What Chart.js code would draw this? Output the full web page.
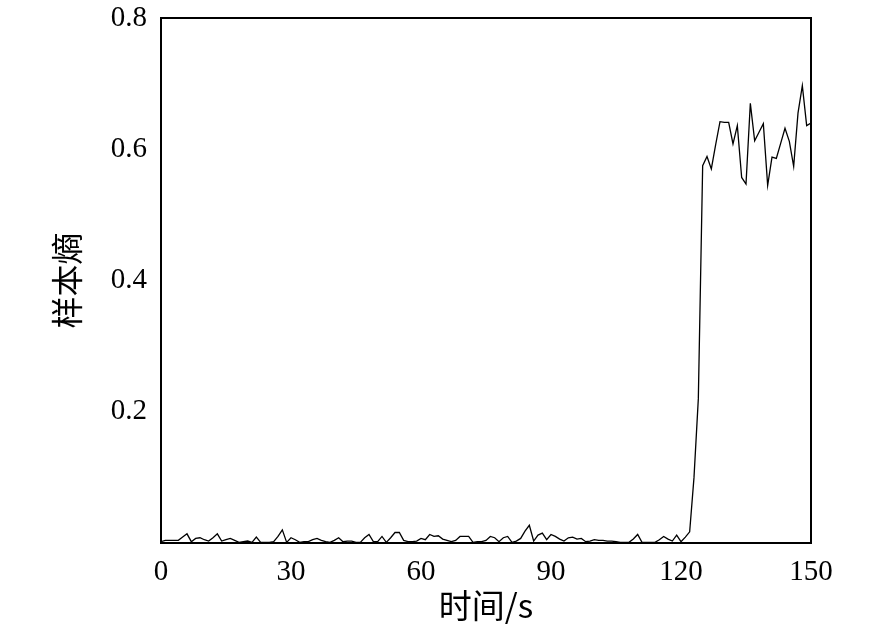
<!DOCTYPE html>
<html>
<head>
<meta charset="utf-8">
<script src="https://cdn.jsdelivr.net/npm/chart.js@4/dist/chart.umd.min.js"></script>
<style>
html,body{margin:0;padding:0;background:#fff;}
#wrap{width:886px;height:631px;}
</style>
</head>
<body>
<div id="wrap"><canvas id="c" width="886" height="631"></canvas></div>
<script>
// time (s)
const times = [];
for (let i = 0; i <= 150; i++) times.push(i);
// sample entropy values
const entropy = [
  0.002,0.004,0.004,0.004,0.004,0.009,0.014,0.002,0.007,0.008,
  0.005,0.003,0.008,0.014,0.003,0.005,0.007,0.004,0.001,0.002,
  0.003,0.001,0.009,0.001,0.001,0.001,0.002,0.010,0.020,0.001,
  0.008,0.005,0.001,0.002,0.002,0.005,0.007,0.004,0.002,0.001,
  0.004,0.008,0.002,0.003,0.003,0.001,0.001,0.008,0.013,0.002,
  0.002,0.010,0.001,0.008,0.016,0.016,0.004,0.002,0.002,0.003,
  0.007,0.005,0.013,0.010,0.011,0.006,0.004,0.002,0.004,0.010,
  0.010,0.010,0.001,0.002,0.002,0.004,0.010,0.008,0.002,0.008,
  0.010,0.001,0.003,0.007,0.018,0.027,0.003,0.012,0.015,0.005,
  0.013,0.010,0.006,0.003,0.008,0.009,0.006,0.007,0.002,0.003,
  0.005,0.004,0.004,0.003,0.003,0.002,0.001,0.001,0.001,0.006,
  0.013,0.001,0.001,0.001,0.001,0.005,0.010,0.006,0.003,0.012,
  0.002,0.009,0.017,0.100,0.220,0.575,0.589,0.570,0.607,0.642,
  0.641,0.641,0.608,0.636,0.557,0.547,0.670,0.613,0.626,0.639,
  0.545,0.588,0.586,0.609,0.632,0.612,0.574,0.655,0.697,0.636,
  0.640
];
const xTicks = [0, 30, 60, 90, 120, 150];
const yTicks = [0.2, 0.4, 0.6, 0.8];
const xTitle = '时间/s';
const yTitle = '样本熵';

const points = times.map((t, i) => ({x: t, y: entropy[i]}));

const frame = {
  id: 'frame',
  afterDraw(chart) {
    const a = chart.chartArea, ctx = chart.ctx;
    ctx.save();
    ctx.strokeStyle = '#000';
    ctx.lineWidth = 2;
    ctx.strokeRect(a.left, a.top, a.right - a.left, a.bottom - a.top);
    ctx.restore();
  }
};

const tickFont = {family: '"Liberation Serif", "Times New Roman", serif', size: 29};
const cjkFont = {family: '"Noto Sans CJK SC", sans-serif', size: 33};

new Chart(document.getElementById('c'), {
  type: 'line',
  data: {
    datasets: [{
      data: points,
      borderColor: '#000',
      borderWidth: 1.3,
      pointRadius: 0,
      tension: 0,
      fill: false
    }]
  },
  options: {
    responsive: false,
    animation: false,
    layout: {padding: {top: 18, right: 75, left: 0, bottom: 0}},
    plugins: {legend: {display: false}, tooltip: {enabled: false}},
    scales: {
      x: {
        type: 'linear',
        min: 0, max: 150,
        afterFit(s) { s.height = 88; s.paddingLeft = 0; s.paddingRight = 0; },
        afterBuildTicks(s) { s.ticks = xTicks.map(v => ({value: v})); },
        grid: {display: false, drawTicks: false},
        border: {display: false},
        ticks: {color: '#000', font: tickFont, padding: 12, maxRotation: 0,
                callback: v => String(v)},
        title: {display: true, text: xTitle, color: '#000', font: cjkFont,
                padding: {top: 0, bottom: 6}}
      },
      y: {
        min: 0, max: 0.8,
        afterFit(s) { s.width = 161; s.paddingTop = 0; s.paddingBottom = 0; },
        afterBuildTicks(s) { s.ticks = yTicks.map(v => ({value: v})); },
        grid: {display: false, drawTicks: false},
        border: {display: false},
        ticks: {color: '#000', font: tickFont, padding: 14,
                callback: v => Number(v).toFixed(1)},
        title: {display: true, text: yTitle, color: '#000',
                font: {family: '"Noto Sans CJK SC", sans-serif', size: 32},
                padding: {top: 48, bottom: 0}}
      }
    }
  },
  plugins: [frame]
});
</script>
</body>
</html>
